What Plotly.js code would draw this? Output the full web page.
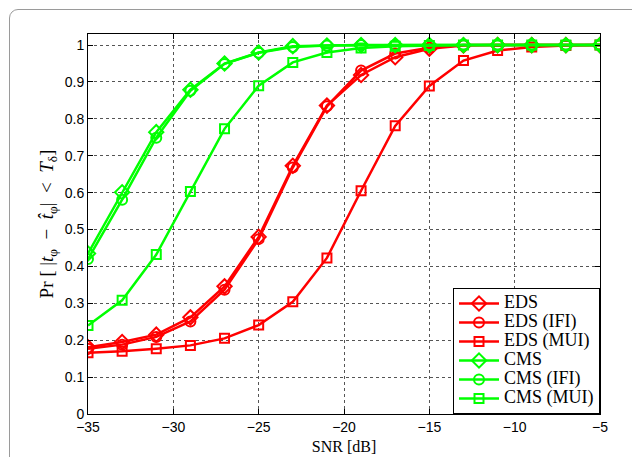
<!DOCTYPE html>
<html>
<head>
<meta charset="utf-8">
<script src="https://cdn.plot.ly/plotly-3.0.1.min.js"></script>
<style>
  html, body { margin: 0; padding: 0; background: #fff; overflow: hidden; }
  #frame { position: absolute; left: 9px; top: 9px; width: 640px; height: 480px;
           border: 1px solid #9a9a9a; border-radius: 9px; box-sizing: border-box; }
  #chart { position: absolute; left: 0; top: 0; width: 632px; height: 457px; }
</style>
</head>
<body>
<div id="frame"></div>
<div id="chart"></div>
<script>
const snr = [-35, -33, -31, -29, -27, -25, -23, -21, -19, -17, -15, -13, -11, -9, -7, -5];

const eds      = [0.181, 0.195, 0.215, 0.262, 0.346, 0.480, 0.673, 0.836, 0.919, 0.967, 0.990, 0.999, 1.0, 1.0, 1.0, 1.0];
const edsIFI   = [0.177, 0.188, 0.209, 0.251, 0.337, 0.474, 0.668, 0.834, 0.931, 0.977, 0.993, 1.0, 1.0, 1.0, 1.0, 1.0];
const edsMUI   = [0.166, 0.170, 0.177, 0.186, 0.205, 0.241, 0.304, 0.423, 0.605, 0.781, 0.889, 0.958, 0.985, 0.995, 0.999, 1.0];
const cms      = [0.435, 0.601, 0.764, 0.879, 0.950, 0.980, 0.997, 0.999, 1.0, 1.0, 1.0, 1.0, 1.0, 1.0, 1.0, 1.0];
const cmsIFI   = [0.420, 0.581, 0.749, 0.876, 0.949, 0.979, 0.995, 0.999, 1.0, 1.0, 1.0, 1.0, 1.0, 1.0, 1.0, 1.0];
const cmsMUI   = [0.240, 0.308, 0.432, 0.603, 0.773, 0.890, 0.953, 0.980, 0.992, 0.997, 0.999, 1.0, 1.0, 1.0, 1.0, 1.0];

const names = ['EDS', 'EDS (IFI)', 'EDS (MUI)', 'CMS', 'CMS (IFI)', 'CMS (MUI)'];
const seriesList = [eds, edsIFI, edsMUI, cms, cmsIFI, cmsMUI];
const colors = ['rgb(255,0,0)', 'rgb(255,0,0)', 'rgb(255,0,0)', 'rgb(0,255,0)', 'rgb(0,255,0)', 'rgb(0,255,0)'];
const symbols = ['diamond-open', 'circle-open', 'square-open', 'diamond-open', 'circle-open', 'square-open'];
const sizes = [11, 10, 9, 11, 10, 9];

const traces = seriesList.map((ys, i) => ({
  x: snr, y: ys, name: '<span style="font-size:18px">' + names[i] + '</span>',
  type: 'scatter', mode: 'lines+markers',
  line: { color: colors[i], width: 2.5 },
  marker: { symbol: symbols[i], size: sizes[i], color: colors[i], line: { color: colors[i], width: 2 } }
}));

const tickFont = { family: 'Liberation Sans, Arial, sans-serif', size: 14, color: '#000' };
const serif = 'Liberation Serif, Times New Roman, serif';

const layout = {
  width: 632, height: 457,
  margin: { l: 88, r: 32, t: 34, b: 43 },
  paper_bgcolor: 'rgba(0,0,0,0)',
  plot_bgcolor: '#fff',
  showlegend: true,
  legend: {
    x: 1, xanchor: 'right', y: 0, yanchor: 'bottom',
    bgcolor: '#fff', bordercolor: '#000', borderwidth: 1,
    font: { family: serif, size: 12, color: '#000' },
    tracegroupgap: 0, itemwidth: 40
  },
  xaxis: {
    range: [-35, -5], tickmode: 'linear', tick0: -35, dtick: 5,
    ticks: 'inside', ticklen: 5, tickcolor: '#000', mirror: 'ticks',
    showline: true, linecolor: '#000', linewidth: 1,
    showgrid: true, gridcolor: '#555', griddash: 'dot', gridwidth: 1,
    zeroline: false, tickfont: tickFont, automargin: false,
    title: { text: 'SNR [dB]', font: { family: serif, size: 16, color: '#000' }, standoff: 7 }
  },
  yaxis: {
    range: [0, 1.03], tickmode: 'linear', tick0: 0, dtick: 0.1,
    ticks: 'inside', ticklen: 5, tickcolor: '#000', mirror: 'ticks',
    showline: true, linecolor: '#000', linewidth: 1,
    showgrid: true, gridcolor: '#555', griddash: 'dot', gridwidth: 1,
    zeroline: false, tickfont: tickFont, automargin: false,
    title: { text: 'Pr [ |<i>t</i><sub>φ</sub>  −  <i>t̂</i><sub>φ</sub>|  <  <i>T</i><sub>δ</sub>]',
             font: { family: serif, size: 19, color: '#000' }, standoff: 6 }
  }
};

Plotly.newPlot('chart', traces, layout, { displayModeBar: false, staticPlot: true });
</script>
</body>
</html>
